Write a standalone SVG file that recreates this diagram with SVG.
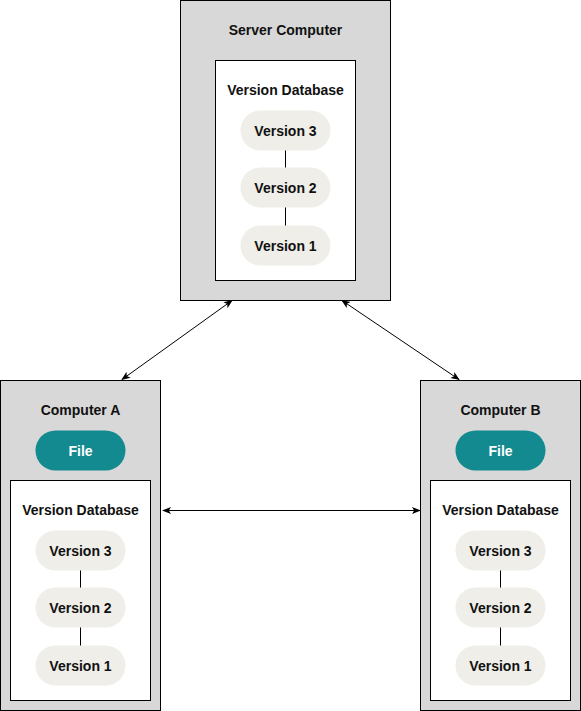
<svg xmlns="http://www.w3.org/2000/svg" width="581" height="711" viewBox="0 0 581 711">
<style>
.box{fill:#d8d8d8;stroke:#000;stroke-width:1}
.db{fill:#fff;stroke:#000;stroke-width:1}
.ver{fill:#efeee8;stroke:none}
.file{fill:#138a8f;stroke:none}
.t{font-family:"Liberation Sans",Arial,sans-serif;font-weight:bold;font-size:14px;text-anchor:middle;dominant-baseline:central;fill:#111}
.tw{fill:#fff}
.link{stroke:#000;stroke-width:1;fill:none}
.conn{stroke:#000;stroke-width:1;fill:none;marker-start:url(#ah);marker-end:url(#ah)}
</style>
<defs>
<marker id="ah" viewBox="0 0 10 10" refX="9" refY="5" markerWidth="9" markerHeight="9" orient="auto-start-reverse" markerUnits="userSpaceOnUse">
<path d="M0,1 L10,5 L0,9 L2.5,5 Z" fill="#000"/>
</marker>
</defs>
<g id="connectors">
<line class="conn" x1="232" y1="300.5" x2="122" y2="379.5"/>
<line class="conn" x1="342" y1="300.5" x2="459" y2="379.5"/>
<line class="conn" x1="163" y1="510.5" x2="420" y2="510.5"/>
</g>
<g id="server">
<rect class="box" x="180.5" y="0.5" width="210" height="300"/>
<text class="t" x="285.5" y="30">Server Computer</text>
<rect class="db" x="215.5" y="60.5" width="140" height="220"/>
<text class="t" x="285.5" y="90">Version Database</text>
<line class="link" x1="285.5" y1="150" x2="285.5" y2="168"/>
<line class="link" x1="285.5" y1="207" x2="285.5" y2="226"/>
<rect class="ver" x="240.5" y="110.5" width="90" height="40" rx="20"/>
<text class="t" x="285.5" y="130.5">Version 3</text>
<rect class="ver" x="240.5" y="167.5" width="90" height="40" rx="20"/>
<text class="t" x="285.5" y="187.5">Version 2</text>
<rect class="ver" x="240.5" y="225.5" width="90" height="40" rx="20"/>
<text class="t" x="285.5" y="245.5">Version 1</text>
</g>
<g id="computerA">
<rect class="box" x="0.5" y="380.5" width="160" height="330"/>
<text class="t" x="80.5" y="410">Computer A</text>
<rect class="file" x="35.5" y="430.5" width="90" height="40" rx="20"/>
<text class="t tw" x="80.5" y="450.5">File</text>
<rect class="db" x="10.5" y="480.5" width="140" height="220"/>
<text class="t" x="80.5" y="510">Version Database</text>
<line class="link" x1="80.5" y1="570" x2="80.5" y2="588"/>
<line class="link" x1="80.5" y1="627" x2="80.5" y2="646"/>
<rect class="ver" x="35.5" y="530.5" width="90" height="40" rx="20"/>
<text class="t" x="80.5" y="550.5">Version 3</text>
<rect class="ver" x="35.5" y="587.5" width="90" height="40" rx="20"/>
<text class="t" x="80.5" y="607.5">Version 2</text>
<rect class="ver" x="35.5" y="645.5" width="90" height="40" rx="20"/>
<text class="t" x="80.5" y="665.5">Version 1</text>
</g>
<g id="computerB">
<rect class="box" x="420.5" y="380.5" width="160" height="330"/>
<text class="t" x="500.5" y="410">Computer B</text>
<rect class="file" x="455.5" y="430.5" width="90" height="40" rx="20"/>
<text class="t tw" x="500.5" y="450.5">File</text>
<rect class="db" x="430.5" y="480.5" width="140" height="220"/>
<text class="t" x="500.5" y="510">Version Database</text>
<line class="link" x1="500.5" y1="570" x2="500.5" y2="588"/>
<line class="link" x1="500.5" y1="627" x2="500.5" y2="646"/>
<rect class="ver" x="455.5" y="530.5" width="90" height="40" rx="20"/>
<text class="t" x="500.5" y="550.5">Version 3</text>
<rect class="ver" x="455.5" y="587.5" width="90" height="40" rx="20"/>
<text class="t" x="500.5" y="607.5">Version 2</text>
<rect class="ver" x="455.5" y="645.5" width="90" height="40" rx="20"/>
<text class="t" x="500.5" y="665.5">Version 1</text>
</g>
</svg>
